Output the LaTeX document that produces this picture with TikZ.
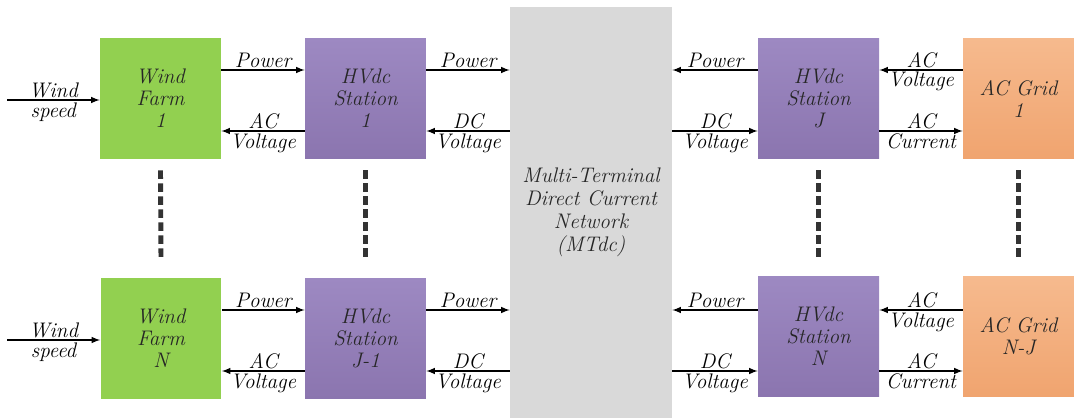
\documentclass[tikz,border=0pt]{standalone}
\usepackage{xcolor}
\usepackage{tikz}
\usetikzlibrary{shapes.geometric, arrows}
\usetikzlibrary{calc,positioning}

\definecolor{farmgreen}{HTML}{92D050}
\definecolor{stationtop}{HTML}{9D89C2}
\definecolor{stationbot}{HTML}{8B75AF}
\definecolor{gridtop}{HTML}{F6BA8E}
\definecolor{gridbot}{HTML}{F0A46F}
\definecolor{netgray}{HTML}{D9D9D9}
\definecolor{dotgray}{HTML}{333333}

\tikzset{
    blok/.style={minimum width=2.42cm, minimum height=2.42cm, align=center,
        inner sep=0pt, font=\fontsize{12}{12.5}\selectfont\itshape, text=black!85},
    farm/.style={blok, fill=farmgreen},
    station/.style={blok, top color=stationtop, bottom color=stationbot},
    acgrid/.style={blok, minimum width=2.22cm, top color=gridtop, bottom color=gridbot},
    net/.style={blok, fill=netgray, minimum width=3.24cm, minimum height=8.22cm,
        font=\fontsize{12}{13}\selectfont\itshape},
    sig/.style={-latex, line width=0.7pt},
    lbl/.style={font=\fontsize{12}{12}\selectfont\itshape, inner sep=1pt},
    dots/.style={line width=2.8pt, dotgray, dash pattern=on 0.17cm off 0.09cm},
}

\begin{document}
\begin{tikzpicture}[x=0.02cm, y=-0.02cm]

    \useasboundingbox (0,0) rectangle (1074,418);

    % Rows of signals
    \coordinate (rA) at (0,70);
    \coordinate (rB) at (0,131);
    \coordinate (rC) at (0,310);
    \coordinate (rD) at (0,371);
    \coordinate (in1) at (7,100);
    \coordinate (inN) at (7,340);

    % MTdc
    \node[net] (mtdc) at (591,212.5) {Multi-Terminal\\Direct Current\\Network\\(MTdc)};

    % Top row
    \node[farm] (wf1) at (160.5,98.5) {Wind\\Farm\\1};
    \node[station] (hv1) at (365.5,98.5) {HVdc\\Station\\1};
    \node[station] (hvj) at (818.5,98.5) {HVdc\\Station\\J};
    \node[acgrid] (ac1) at (1018.5,98.5) {AC Grid\\1};

    % Bottom row
    \node[farm] (wfn) at (161,338.5) {Wind\\Farm\\N};
    \node[station] (hvjm) at (365.5,338.5) {HVdc\\Station\\J-1};
    \node[station] (hvn) at (818.5,336.5) {HVdc\\Station\\N};
    \node[acgrid] (acn) at (1018.5,336.5) {AC Grid\\N-J};

    % Wind inputs
    \draw[sig] (in1) -- node[lbl,above]{Wind} node[lbl,below]{speed} (wf1.west |- in1);
    \draw[sig] (inN) -- node[lbl,above]{Wind} node[lbl,below]{speed} (wfn.west |- inN);

    % Farm <-> station
    \draw[sig] (wf1.east |- rA) -- node[lbl,above]{Power} (hv1.west |- rA);
    \draw[sig] (hv1.west |- rB) -- node[lbl,above]{AC} node[lbl,below]{Voltage} (wf1.east |- rB);
    \draw[sig] (wfn.east |- rC) -- node[lbl,above]{Power} (hvjm.west |- rC);
    \draw[sig] (hvjm.west |- rD) -- node[lbl,above]{AC} node[lbl,below]{Voltage} (wfn.east |- rD);

    % Station <-> MTdc (left)
    \draw[sig] (hv1.east |- rA) -- node[lbl,above]{Power} (mtdc.west |- rA);
    \draw[sig] (mtdc.west |- rB) -- node[lbl,above]{DC} node[lbl,below]{Voltage} (hv1.east |- rB);
    \draw[sig] (hvjm.east |- rC) -- node[lbl,above]{Power} (mtdc.west |- rC);
    \draw[sig] (mtdc.west |- rD) -- node[lbl,above]{DC} node[lbl,below]{Voltage} (hvjm.east |- rD);

    % MTdc <-> station (right)
    \draw[sig] (hvj.west |- rA) -- node[lbl,above]{Power} (mtdc.east |- rA);
    \draw[sig] (mtdc.east |- rB) -- node[lbl,above]{DC} node[lbl,below]{Voltage} (hvj.west |- rB);
    \draw[sig] (hvn.west |- rC) -- node[lbl,above]{Power} (mtdc.east |- rC);
    \draw[sig] (mtdc.east |- rD) -- node[lbl,above]{DC} node[lbl,below]{Voltage} (hvn.west |- rD);

    % Grid <-> station
    \draw[sig] (ac1.west |- rA) -- node[lbl,above]{AC} node[lbl,below]{Voltage} (hvj.east |- rA);
    \draw[sig] (hvj.east |- rB) -- node[lbl,above]{AC} node[lbl,below]{Current} (ac1.west |- rB);
    \draw[sig] (acn.west |- rC) -- node[lbl,above]{AC} node[lbl,below]{Voltage} (hvn.east |- rC);
    \draw[sig] (hvn.east |- rD) -- node[lbl,above]{AC} node[lbl,below]{Current} (acn.west |- rD);

    % Dots between rows
    \foreach \a/\b in {wf1/wfn, hv1/hvjm} {
        \draw[dots] ($(\a.south)+(0,11)$) -- ($(\b.north)+(0,-17)$);
    }
    \foreach \a/\b in {hvj/hvn, ac1/acn} {
        \draw[dots] ($(\a.south)+(0,11)$) -- ($(\b.north)+(0,-15)$);
    }

\end{tikzpicture}
\end{document}
